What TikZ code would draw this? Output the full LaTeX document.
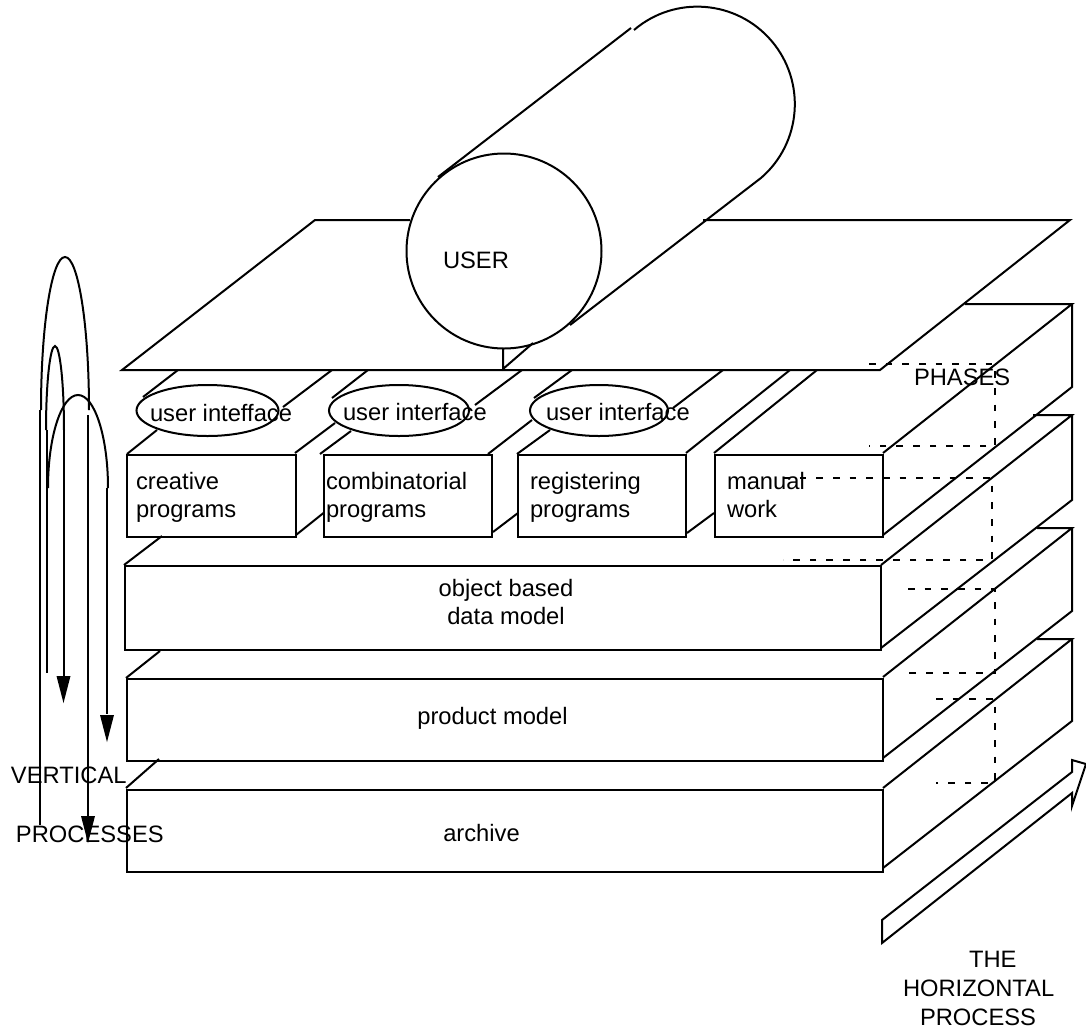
\documentclass[tikz,border=0pt]{standalone}
\usepackage{fontspec}
\setmainfont{Liberation Sans}

\tikzset{every picture/.style={line width=1.5pt}}
\tikzset{dashline/.style={line width=1.5pt,dash pattern=on 5pt off 7.5pt}}
\tikzset{tiphead/.style={fill=black,draw opacity=0}}
\tikzset{txt/.style={inner sep=0pt,anchor=base west,font=\fontsize{17.8}{21}\selectfont}}
\tikzset{txtblock/.style={inner sep=0pt,anchor=west,align=left,font=\fontsize{17.8}{21}\selectfont}}
\tikzset{txtcenter/.style={inner sep=0pt,align=center,font=\fontsize{17.8}{21}\selectfont}}

\begin{document}
\begin{tikzpicture}[x=0.75pt,y=0.75pt,yscale=-1,xscale=1]
\useasboundingbox (0,0) rectangle (1086,1029);

%Platform
\draw (410,220) -- (315,220) -- (122,370) -- (880,370) -- (1070,220) -- (703,220) ;

%Cylinder
\draw (504,251) circle (97.5) ;
\draw (438,177) -- (631,28) ;
\draw (634,30) arc [start angle=-130.5, end angle=49, radius=97.5] -- (570,325) ;
\draw (503,348) -- (503,369) -- (533,343) ;

%Ellipses
\draw (207.5,410.5) ellipse (71 and 25.5) ;
\draw (399,410.5) ellipse (70 and 25.5) ;
\draw (599,410.5) ellipse (69 and 25.5) ;

%Straight Lines under the platform
\draw (178,370) -- (143,397) ;
\draw (332,370) -- (283,407) ;
\draw (368,370) -- (332,398) ;
\draw (522,370) -- (475,405) ;
\draw (572,370) -- (534,398) ;
\draw (723,370) -- (673,408) ;

%Program boxes
\draw (127,455) rectangle (296,537) ;
\draw (323.5,455) rectangle (492,537) ;
\draw (518,455) rectangle (686,537) ;
\draw (715,455) rectangle (883,537) ;

\draw (127,454) -- (157,430) ;
\draw (295,453) -- (335,423) ;
\draw (296,535) -- (323.5,513) ;
\draw (320,454) -- (351,431) ;
\draw (488,454) -- (532,420) ;
\draw (493,532) -- (518,513) ;
\draw (517,454) -- (550,430) ;
\draw (686,453) -- (790,370) ;
\draw (687,533) -- (714,513) ;
\draw (714,453) -- (817,370) ;

%Layer boxes
\draw (125,566) rectangle (881,650) ;
\draw (127,679) rectangle (883,761) ;
\draw (127,790) rectangle (883,872) ;

\draw (124,565) -- (162,536) ;
\draw (126,678) -- (160,651) ;
\draw (126,788) -- (159,759) ;

%Side faces
\draw (883,453) -- (1072,304) -- (965,304) ;
\draw (1072,304) -- (1072,387) -- (883,535) ;
\draw (881,565) -- (1072,415) -- (1033,415) ;
\draw (1072,415) -- (1072,500) -- (881,648) ;
\draw (883,677) -- (1072,528) -- (1037,528) ;
\draw (1072,528) -- (1072,611) -- (883,758) ;
\draw (883,788) -- (1072,639) -- (1037,639) ;
\draw (1072,639) -- (1072,721) -- (883,868) ;

%Dashed lines
\draw [dashline] (869,364) -- (995,364) -- (995,446) -- (869,446) ;
\draw [dashline] (783,478) -- (992,478) -- (992,560) -- (783,560) ;
\draw [dashline] (908,589) -- (995,589) -- (995,673) -- (908,673) ;
\draw [dashline] (936,699) -- (995,699) -- (995,783) -- (936,783) ;

%Horizontal process arrow
\draw (882,920) -- (1072,772) -- (1072,760) -- (1086,764) -- (1072,806) -- (1072,793) -- (882,943) -- cycle ;

%Vertical process arches
\draw (41,410) arc [start angle=180, end angle=360, x radius=24, y radius=153] ;
\draw (40,410) -- (40,825) ;
\draw (88,415) -- (88,816) ;
\draw [shift={(88,843)}, rotate = 270] [tiphead] (27,-7) -- (0,0) -- (27,7) -- cycle ;

\draw (46,430) arc [start angle=180, end angle=360, x radius=9, y radius=84] ;
\draw (47,430) -- (47,673) ;
\draw (63.5,430) -- (63.5,676) ;
\draw [shift={(63.5,703)}, rotate = 270] [tiphead] (27,-7) -- (0,0) -- (27,7) -- cycle ;

\draw (48,488) arc [start angle=180, end angle=360, x radius=30, y radius=93] ;
\draw (107,488) -- (107,714) ;
\draw [shift={(107,742)}, rotate = 270] [tiphead] (27,-7) -- (0,0) -- (27,7) -- cycle ;

% Text Node
\node [txt] (user) at (442,268) {USER};
\node [txt] (ui one) at (149,421) {user inteffa{}ce};
\node [txt] (ui two) at (342,420) {user interface};
\node [txt] (ui three) at (545,420) {user interface};
\node [txtblock] (creative) at (135,497) {creative\\programs};
\node [txtblock] (combinatorial) at (325,497) {combinatorial\\programs};
\node [txtblock] (registering) at (529,497) {registering\\programs};
\node [txtblock] (manual) at (726,495.5) {manual\\work};
\node [txtcenter] (object) at (506,602) {object based\\ data model};
\node [txtcenter] (product) at (492.5,718) {product model};
\node [txtcenter] (archive) at (481.5,833) {archive};
\node [txt] (phases) at (913,385) {PHASES};
\node [txt] (vertical) at (10,783) {VERTICAL};
\node [txt] (processes) at (15,842) {PROCESSES};
\node [txt] (the) at (968,967) {THE};
\node [txt] (horizontal) at (902,996) {HORIZONTAL};
\node [txt] (process) at (919,1025) {PROCESS};

\end{tikzpicture}
\end{document}
